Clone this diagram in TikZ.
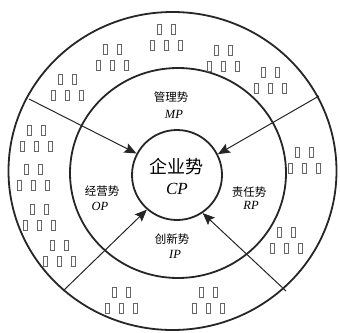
\documentclass[tikz,border=0pt]{standalone}
\usepackage{fontspec}
\setmainfont{Liberation Serif}
\newfontfamily\cjk{Noto Sans CJK SC}
\usetikzlibrary{arrows.meta}

\begin{document}
\begin{tikzpicture}[x=1pt,y=-1pt,
            ring/.style={line width=1.8pt,black!85},
            arrow/.style={line width=1pt,black!85,-{Stealth[length=12pt,width=10pt,inset=2pt]}},
            tofu/.style={draw=black!60,line width=0.9pt},
            power/.style={font=\cjk\fontsize{11.5}{12}\selectfont},
            abbr/.style={font=\itshape\fontsize{12.5}{13}\selectfont},
            inner sep=0pt
         ]
      \useasboundingbox (0,0) rectangle (340,332);
      \draw[ring] (172.5,171) ellipse [x radius=164, y radius=159];
      \draw[ring] (178,173) ellipse [x radius=108, y radius=105];
      \node[circle,draw,ring,minimum size=90pt] (cp) at (177,175) {};

      \coordinate (ul) at (29,99);
      \coordinate (ur) at (319,96);
      \coordinate (ll) at (63,291);
      \coordinate (lr) at (286,291);
      \draw[arrow] (ul) -- (cp.152);
      \draw[arrow] (ur) -- (cp.27);
      \draw[arrow] (ll) -- (cp.-131);
      \draw[arrow] (lr) -- (cp.-56);

      \node[power] (mp) at (171,97) {管理势};
      \node[abbr] (mpab) at (174,114) {MP};
      \node[power,font=\cjk\fontsize{18}{19}\selectfont] (cpn) at (176,167) {企业势};
      \node[abbr,font=\itshape\fontsize{17}{18}\selectfont] (cpab) at (177,189) {CP};
      \node[power] (op) at (102,191) {经营势};
      \node[abbr] (opab) at (100,206) {OP};
      \node[power] (rp) at (249,192) {责任势};
      \node[abbr] (rpab) at (251,205) {RP};
      \node[power] (ip) at (172,239) {创新势};
      \node[abbr] (ipab) at (175,254) {IP};

      \foreach \gx/\gy in {166/37, 112/57, 67/87, 223/58, 270/80, 36/138, 33/177,
                           39/217, 59/253, 121/300, 208/300, 304/160, 286/240}
         \foreach \dx/\dy in {-7/-8, 7/-8, -14/8, 0/8, 14/8}
            \draw[tofu] (\gx+\dx-2,\gy+\dy-5) rectangle ++(4,10);
   \end{tikzpicture}
\end{document}
